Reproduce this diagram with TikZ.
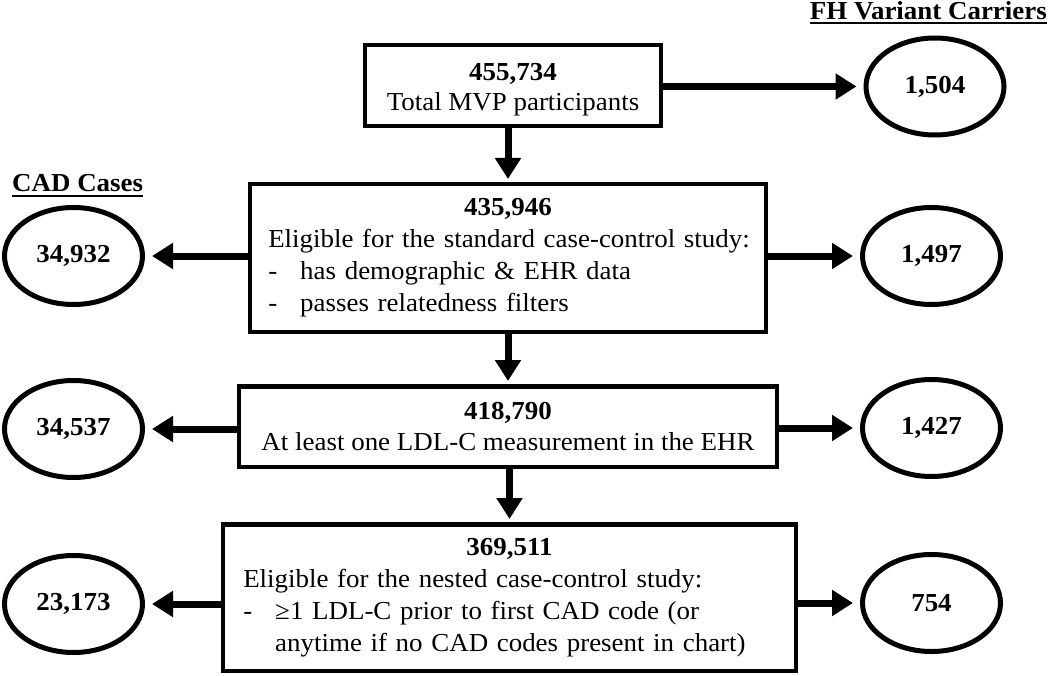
\documentclass[tikz,border=0pt]{standalone}
\usepackage{fontspec}
\setmainfont{Liberation Serif}[FakeStretch=1.04]
\usetikzlibrary{arrows.meta,shapes.geometric}
\begin{document}
\begin{tikzpicture}[x=1bp,y=-1bp,
  every node/.style={font=\fontsize{26}{31.5}\selectfont},
  box/.style={draw, line width=4.5bp, rectangle, inner sep=0pt},
  tallbox/.style={box, font=\fontsize{26}{32.2}\selectfont},
  oval/.style={draw, ellipse, line width=5bp, minimum width=138bp, minimum height=97bp, inner sep=0pt, font=\fontsize{26}{31.5}\selectfont\bfseries},
  arr/.style={line width=7bp, -{Triangle[width=25bp,length=21bp]}, shorten >=7bp},
  varr/.style={line width=7bp, -{Triangle[width=25bp,length=21bp]}, shorten >=3bp},
  hdr/.style={inner sep=0pt, font=\fontsize{26}{31.5}\selectfont\bfseries},
  uline/.style={line width=2bp}
]
\useasboundingbox (0,0) rectangle (1050,676);

% headers
\node[hdr, anchor=base west] (cadh) at (12,192) {CAD Cases};
\node[hdr, anchor=base east] (fhh) at (1047,19.5) {FH Variant Carriers};
\draw[uline] ([yshift=-4bp]cadh.base west) -- ([yshift=-4bp]cadh.base east);
\draw[uline] ([yshift=-4bp]fhh.base west) -- ([yshift=-4bp]fhh.base east);

% boxes
\node[box, minimum width=296bp, minimum height=81bp, align=center] (b1) at (513,85.5)
  {\rule{0pt}{25.5bp}\textbf{455,734}\\[-1bp]Total MVP participants};
\node[tallbox, minimum width=515.5bp, minimum height=147.5bp, text width=479.5bp, align=left] (b2) at (508,258)
  {\makebox[479.5bp]{\textbf{435,946}}\\
   \mbox{Eligible for the standard case-control study:}\\
   \mbox{\makebox[32bp][l]{-}has demographic \& EHR data}\\
   \mbox{\makebox[32bp][l]{-}passes relatedness filters}};
\node[box, minimum width=537.5bp, minimum height=80.5bp, align=center] (b3) at (508,426.5)
  {\textbf{418,790}\\At least one LDL-C measurement in the EHR};
\node[tallbox, minimum width=572.5bp, minimum height=146.5bp, text width=532.5bp, align=left] (b4) at (509.5,597.5)
  {\makebox[532.5bp]{\textbf{369,511}}\\
   \mbox{Eligible for the nested case-control study:}\\
   \mbox{\makebox[32bp][l]{-}≥1 LDL-C prior to first CAD code (or}\\
   \mbox{\hspace*{32bp}anytime if no CAD codes present in chart)}};

% ellipses
\node[oval] (r1) at (935,86.5) {1,504};
\node[oval] (l2) at (73.5,256) {34,932};
\node[oval] (r2) at (931.5,256) {1,497};
\node[oval] (l3) at (73.5,429) {34,537};
\node[oval] (r3) at (931.5,428) {1,427};
\node[oval] (l4) at (73.5,604) {23,173};
\node[oval] (r4) at (931.5,603) {754};

% connectors
\draw[arr] (b1.east |- r1) -- (r1);
\draw[varr] (b1.south -| b2.north) -- (b2.north);
\draw[arr] (b2.west |- l2) -- (l2);
\draw[arr] (b2.east |- r2) -- (r2);
\draw[varr] (b2.south -| b3.north) -- (b3.north);
\draw[arr] (b3.west |- l3) -- (l3);
\draw[arr] (b3.east |- r3) -- (r3);
\draw[varr] (b3.south -| b4.north) -- (b4.north);
\draw[arr] (b4.west |- l4) -- (l4);
\draw[arr] (b4.east |- r4) -- (r4);
\end{tikzpicture}
\end{document}
